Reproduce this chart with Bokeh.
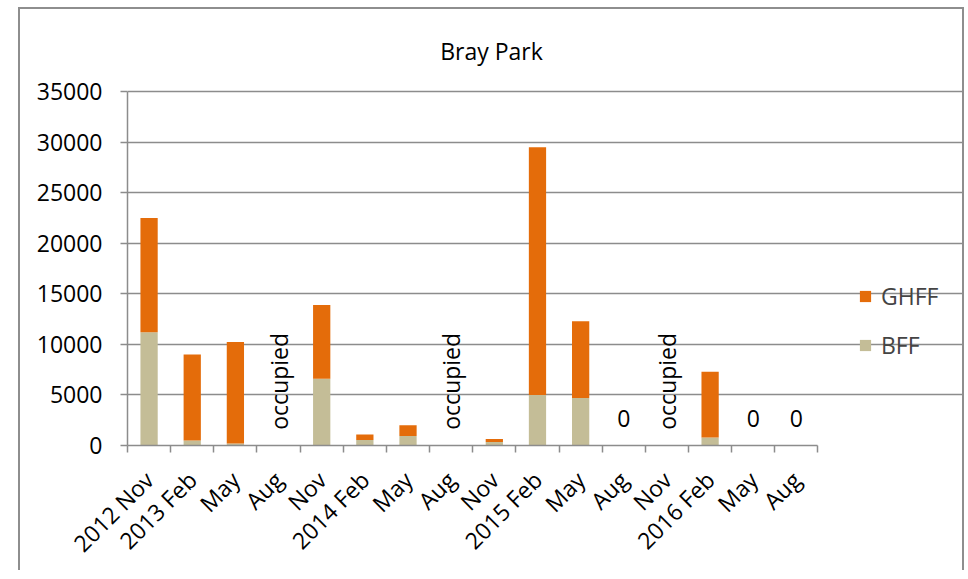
import math
from bokeh.plotting import figure
from bokeh.models import (ColumnDataSource, FixedTicker, Label, Legend, LegendItem, Range1d)
from bokeh.core.properties import value
from bokeh.embed import file_html
from bokeh.resources import INLINE

# ---- data ----
categories = ["2012 Nov", "2013 Feb", "May", "Aug", "Nov", "2014 Feb", "May", "Aug",
              "Nov", "2015 Feb", "May", "Aug", "Nov", "2016 Feb", "May", "Aug"]
bff = [11200, 500, 200, 0, 6600, 550, 950, 0, 350, 5000, 4700, 0, 0, 800, 0, 0]
ghff = [11300, 8500, 10050, 0, 7300, 550, 1050, 0, 300, 24500, 7600, 0, 0, 6500, 0, 0]
notes = ["", "", "", "occupied", "", "", "", "occupied", "", "", "", "0", "occupied", "", "0", "0"]
y_ticks = [0, 5000, 10000, 15000, 20000, 25000, 30000, 35000]
y_max = 35000

ORANGE = "#E46C0A"
TAN = "#C4BD97"
GRAY = "#8c8c8c"
FONT = "Open Sans"
FS = "23px"

n = len(categories)
xs = list(range(n))
src = ColumnDataSource(dict(x=xs, bff=bff, ghff=ghff))

# geometry (pixels)
W, H = 946, 563          # host size incl. 2px borders (top/left/right)
CW, CH = W - 4, H - 2    # canvas size
ML, MB = 107, 126
PX_PER_CAT = 42.95
PLOT_H = 353
frame_w = CW - ML
frame_h = CH - MB
x_end = -0.5 + frame_w / PX_PER_CAT
y_end = y_max * frame_h / PLOT_H

p = figure(width=W, height=H, x_range=Range1d(-0.5, x_end),
           y_range=Range1d(0, y_end), output_backend="svg", toolbar_location=None,
           min_border_left=ML, min_border_right=0, min_border_top=0, min_border_bottom=MB,
           title=None)
p.outline_line_color = None
p.margin = (7, 0, 0, 18)
p.styles = {"border-top": "2px solid #8e8e8e", "border-left": "2px solid #8e8e8e",
            "border-right": "2px solid #8e8e8e"}

rs = p.vbar_stack(["bff", "ghff"], x="x", width=0.4, color=[TAN, ORANGE],
                  line_color=None, source=src)

# grid
p.xgrid.visible = False
p.ygrid.grid_line_color = GRAY
p.ygrid.grid_line_width = 1.5
p.ygrid.ticker = FixedTicker(ticks=y_ticks)
p.ygrid.bounds = (-0.5, n - 0.5)

# y axis
ya = p.yaxis[0]
ya.ticker = FixedTicker(ticks=y_ticks)
ya.bounds = (0, y_max)
ya.axis_line_color = GRAY
ya.axis_line_width = 1.5
ya.major_tick_line_color = GRAY
ya.major_tick_line_width = 1.5
ya.major_tick_out = 7
ya.major_tick_in = 0
ya.minor_tick_line_color = None
ya.major_label_text_font = FONT
ya.major_label_text_font_size = FS
ya.major_label_text_color = "black"
ya.major_label_standoff = 18

# x axis
xa = p.xaxis[0]
xa.ticker = FixedTicker(ticks=xs, minor_ticks=[i - 0.5 for i in range(n + 1)])
xa.bounds = (-0.5, n - 0.5)
xa.major_label_overrides = {i: c for i, c in enumerate(categories)}
xa.axis_line_color = GRAY
xa.axis_line_width = 1.5
xa.major_tick_line_color = None
xa.minor_tick_line_color = GRAY
xa.minor_tick_line_width = 1.5
xa.minor_tick_out = 7
xa.minor_tick_in = 0
xa.major_label_orientation = math.pi / 4
xa.major_label_text_font = FONT
xa.major_label_text_font_size = FS
xa.major_label_text_color = "black"
xa.major_label_standoff = 23

# annotations on the bars
occ_x = [x for x, t in zip(xs, notes) if t == "occupied"]
occ_t = [t for t in notes if t == "occupied"]
zero_x = [x for x, t in zip(xs, notes) if t == "0"]
zero_t = [t for t in notes if t == "0"]
p.text(x=occ_x, y=[6350] * len(occ_x), text=occ_t, angle=math.pi / 2,
       text_font=value(FONT), text_font_size=FS, text_align="center",
       text_baseline="middle", text_color="black")
p.text(x=zero_x, y=[2700] * len(zero_x), text=zero_t,
       text_font=value(FONT), text_font_size=FS, text_align="center",
       text_baseline="middle", text_color="black")

# title
p.add_layout(Label(x=364, y=395, x_units="screen", y_units="screen", text="Bray Park",
                   text_align="center", text_baseline="alphabetic",
                   text_font=FONT, text_font_size=FS, text_color="black"))

legend = Legend(items=[LegendItem(label="GHFF", renderers=[rs[1]]),
                       LegendItem(label="BFF", renderers=[rs[0]])],
                location=(731, 84), glyph_width=14, glyph_height=14,
                label_text_font=FONT, label_text_font_size=FS, label_standoff=9,
                spacing=17, padding=0, margin=0, border_line_color=None,
                background_fill_alpha=0)
p.add_layout(legend)

open("out.html", "w").write(file_html(p, INLINE))
